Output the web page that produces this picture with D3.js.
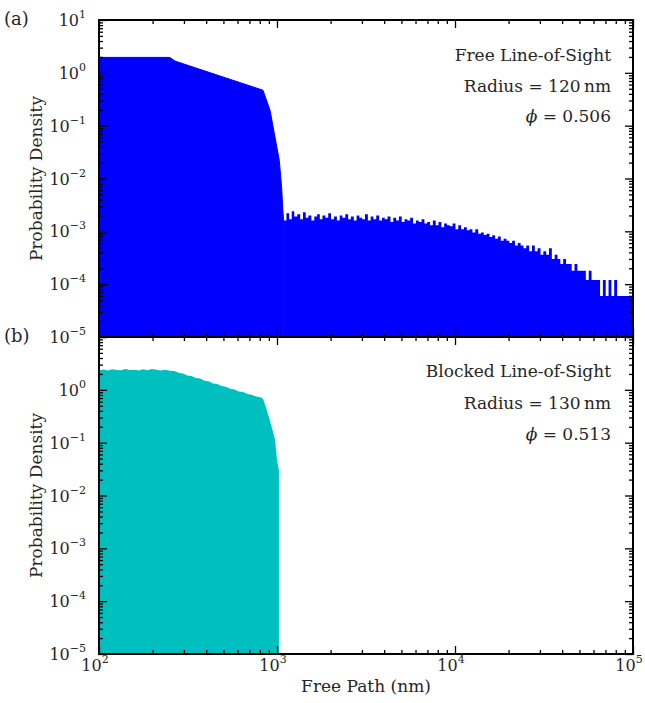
<!DOCTYPE html>
<html lang="en">
<head>
<meta charset="UTF-8">
<script src="https://d3js.org/d3.v7.min.js"></script>
<title>Free path distributions</title>
<style>
  body { margin: 0; background: #fff; }
  svg text { font-family: "DejaVu Serif", "Liberation Serif", "Times New Roman", serif; fill: #262626; }
</style>
</head>
<body>
<script>
// panel (a): free line-of-sight, smooth head then noisy tail (x in nm, y density)
const freeHead = [
  [100, 1.96], [250, 1.96], [267, 1.67], [834, 0.469], [914, 0.195],
  [975, 0.060], [1030, 0.022], [1062, 0.0067], [1080, 0.0023], [1090, 0.0016]
];
const freeTailX = [
  1090, 1130, 1170, 1210, 1250, 1300, 1350, 1400, 1450, 1500, 1560, 1620, 1680, 1740, 1800,
  1870, 1940, 2010, 2090, 2170, 2250, 2330, 2420, 2510, 2600, 2700, 2800, 2900, 3010, 3120,
  3240, 3360, 3480, 3610, 3750, 3890, 4030, 4180, 4340, 4500, 4670, 4840, 5020, 5210, 5400,
  5600, 5810, 6030, 6250, 6490, 6730, 6980, 7240, 7510, 7790, 8080, 8380, 8690, 9010, 9350,
  9700, 10060, 10430, 10820, 11230, 11650, 12080, 12530, 13000, 13490, 13990, 14510, 15050, 15620, 16200,
  16800, 17430, 18080, 18760, 19460, 20180, 20940, 21720, 22530, 23370, 24250, 25150, 26090, 27070, 28080,
  29130, 30220, 31350, 32520, 33730, 34990, 36300, 37660, 39060, 40520, 42040, 43610, 45240, 46930, 48680,
  50500, 52390, 54350, 56380, 58480, 60670, 62940, 65290, 67730, 70260, 72890, 75610, 78440, 81370, 84410,
  87560, 90840, 94230, 97750, 100000
];
const freeTailY = [
  0.0016, 0.0022, 0.0017, 0.0024, 0.0019, 0.0021, 0.0017, 0.0023, 0.0018, 0.0020, 0.0016, 0.0019, 0.0021, 0.0017, 0.0020,
  0.0018, 0.0022, 0.0017, 0.0019, 0.0016, 0.0020, 0.0018, 0.0021, 0.0017, 0.0019, 0.0016, 0.0020, 0.0018, 0.0017, 0.0021,
  0.0016, 0.0019, 0.0017, 0.0020, 0.0016, 0.0018, 0.0017, 0.0019, 0.0015, 0.0018, 0.0016, 0.0019, 0.0015, 0.0017, 0.0016,
  0.0018, 0.0014, 0.0016, 0.0015, 0.0017, 0.0014, 0.0015, 0.0013, 0.0016, 0.0013, 0.0015, 0.0012, 0.0014, 0.0013, 0.00125,
  0.0014, 0.0011, 0.0013, 0.0011, 0.0012, 0.00105, 0.0011, 0.00095, 0.0011, 0.0009, 0.00095, 0.00085, 0.0009, 0.00078, 0.00084,
  0.00072, 0.0008, 0.00066, 0.00072, 0.00066, 0.0006, 0.00066, 0.00054, 0.0006, 0.00054, 0.00048, 0.00054, 0.00042, 0.00054, 0.00042,
  0.00048, 0.00036, 0.00042, 0.00036, 0.00048, 0.0003, 0.00036, 0.0003, 0.00024, 0.0003, 0.00024, 0.00024, 0.00018, 0.00024, 0.00018,
  0.00018, 0.00018, 0.00012, 0.00018, 0.00012, 0.00012, 0.00012, 0.00006, 0.00012, 0.00006, 0.00012, 0.00006, 0.00012, 0.00006, 0.00006,
  0.00006, 0.00006, 0.00006, 0.00006, 0.00006
];

// panel (b): blocked line-of-sight
const blockedX = [
  100, 106, 112, 119, 126, 133, 141, 149, 158, 167, 177, 187, 198, 210, 222, 235, 250,
  265, 280, 296, 313, 331, 350, 370, 391, 413, 437, 462, 488, 516, 546, 577, 610, 645, 682,
  721, 762, 805, 834, 870, 910, 945, 975, 1000, 1025
];
const blockedY = [
  2.36, 2.42, 2.31, 2.45, 2.38, 2.34, 2.47, 2.37, 2.41, 2.32, 2.44, 2.36, 2.49, 2.39, 2.33, 2.40, 2.30,
  2.28, 2.10, 2.04, 1.87, 1.82, 1.67, 1.63, 1.48, 1.45, 1.32, 1.29, 1.18, 1.15, 1.05, 1.02, 0.93, 0.91, 0.83,
  0.81, 0.75, 0.72, 0.68, 0.45, 0.27, 0.17, 0.113, 0.047, 0.03
];

const xTicksMajor = [1e2, 1e3, 1e4, 1e5];
const yTicksMajor = [1e-5, 1e-4, 1e-3, 1e-2, 1e-1, 1e0, 1e1];

const left = 99, right = 633;
const svg = d3.select("body").append("svg").attr("width", 645).attr("height", 703);

const x = d3.scaleLog().domain([1e2, 1e5]).range([left, right]);
const xMinor = x.ticks().filter(v => !xTicksMajor.includes(v));

function exp10(v) { return Math.round(Math.log10(v)); }

function powLabel(sel, v) {
  sel.text(null);
  sel.append("tspan").text("10");
  const e = exp10(v);
  sel.append("tspan").attr("dy", -8).attr("font-size", 11)
    .text(e < 0 ? "\u2212" + (-e) : String(e));
}

function panel(top, bottom, opts) {
  const y = d3.scaleLog().domain([1e-5, 1e1]).range([bottom, top]).clamp(true);
  const yMinor = y.ticks().filter(v => !yTicksMajor.some(m => Math.abs(m - v) / m < 1e-6));
  const g = svg.append("g");

  const clipId = "clip" + top;
  svg.append("clipPath").attr("id", clipId).append("rect")
    .attr("x", left).attr("y", top).attr("width", right - left).attr("height", bottom - top);

  const plot = g.append("g").attr("clip-path", "url(#" + clipId + ")");
  opts.draw(plot, y);

  // ticks, all inward
  const tk = (axis, vals, size) => axis.tickValues(vals).tickSize(-size).tickFormat("");
  const addAxis = (fn, tr, vals, size) => {
    const a = g.append("g").attr("transform", tr).call(tk(fn, vals, size));
    a.select(".domain").remove();
    a.selectAll("line").attr("stroke", "#000").attr("stroke-width", 1.3);
  };
  [[xTicksMajor, 8], [xMinor, 4]].forEach(([vals, s]) => {
    addAxis(d3.axisTop(x), `translate(0,${top})`, vals, s);
    addAxis(d3.axisBottom(x), `translate(0,${bottom})`, vals, s);
  });
  [[yTicksMajor, 8], [yMinor, 4]].forEach(([vals, s]) => {
    addAxis(d3.axisLeft(y), `translate(${left},0)`, vals, s);
    addAxis(d3.axisRight(y), `translate(${right},0)`, vals, s);
  });

  g.append("rect").attr("x", left).attr("y", top).attr("width", right - left).attr("height", bottom - top)
    .attr("fill", "none").attr("stroke", "#000").attr("stroke-width", 2);

  // y tick labels
  g.selectAll(".ylab").data(yTicksMajor.filter(opts.yLabelFilter)).enter().append("text")
    .attr("x", 86).attr("y", d => y(d) + 6).attr("text-anchor", "end").attr("font-size", 16)
    .each(function(d) { powLabel(d3.select(this), d); });

  // y axis label
  g.append("text")
    .attr("transform", `translate(42,${(top + bottom) / 2}) rotate(-90)`)
    .attr("text-anchor", "middle").attr("font-size", 17)
    .text("Probability Density");

  // panel letter
  g.append("text").attr("x", 4).attr("y", top + 5).attr("font-size", 18).text(opts.letter);

  // annotation
  opts.notes.forEach((t, i) => {
    const tx = g.append("text").attr("x", 611).attr("y", opts.noteY[i])
      .attr("text-anchor", "end").attr("font-size", 17);
    if (i === 2) {
      tx.append("tspan").attr("font-style", "italic").text("\u03d5");
      tx.append("tspan").text(" = " + t);
    } else {
      tx.text(t);
    }
  });
  return y;
}

// panel (a)
panel(20, 337, {
  letter: "(a)",
  yLabelFilter: () => true,
  notes: ["Free Line-of-Sight", "Radius = 120\u2009nm", "0.506"],
  noteY: [61, 92, 122],
  draw: (plot, y) => {
    const b = y.range()[0];
    plot.append("path").datum(freeHead)
      .attr("fill", "#0000ff").attr("stroke", "#0000ff").attr("stroke-width", 1)
      .attr("d", d3.area().x(d => x(d[0])).y0(b).y1(d => y(d[1])));
    const tail = freeTailX.map((v, i) => [v, freeTailY[i]]);
    plot.append("path").datum(tail)
      .attr("fill", "#0000ff")
      .attr("d", d3.area().curve(d3.curveStepAfter).x(d => x(d[0])).y0(b).y1(d => y(d[1])));
  }
});

// panel (b)
panel(337, 654, {
  letter: "(b)",
  yLabelFilter: v => v < 5,
  notes: ["Blocked Line-of-Sight", "Radius = 130\u2009nm", "0.513"],
  noteY: [377, 409, 440],
  draw: (plot, y) => {
    const b = y.range()[0];
    const pts = blockedX.map((v, i) => [v, blockedY[i]]);
    plot.append("path").datum(pts)
      .attr("fill", "#00bfbf")
      .attr("d", d3.area().x(d => x(d[0])).y0(b).y1(d => y(d[1])));
  }
});

// x tick labels (bottom panel only)
svg.selectAll(".xlab").data(xTicksMajor).enter().append("text")
  .attr("x", d => x(d) - 4).attr("y", 671).attr("text-anchor", "middle").attr("font-size", 16)
  .each(function(d) { powLabel(d3.select(this), d); });

svg.append("text").attr("x", (left + right) / 2).attr("y", 692)
  .attr("text-anchor", "middle").attr("font-size", 17).text("Free Path (nm)");
</script>
</body>
</html>
